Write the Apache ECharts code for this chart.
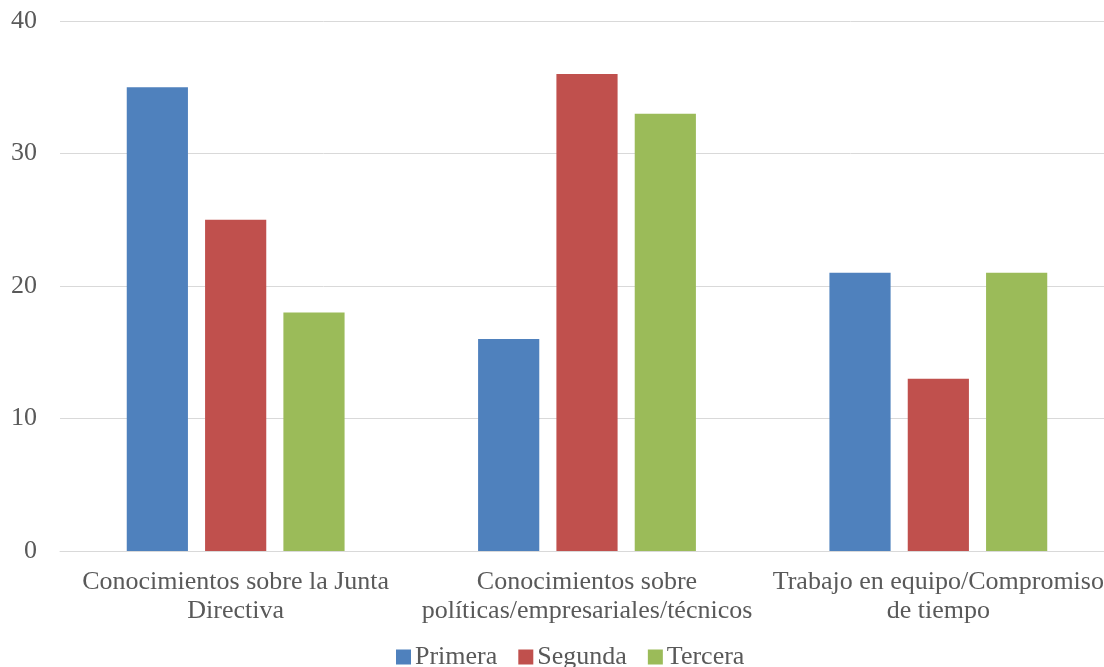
<!DOCTYPE html>
<html>
<head>
<meta charset="utf-8">
<script src="https://cdn.jsdelivr.net/npm/echarts@6/dist/echarts.min.js"></script>
<style>html,body{margin:0;padding:0;background:#fff;overflow:hidden;}#c{width:1114px;height:667px;}</style>
</head>
<body>
<div id="c"></div>
<script>
const categories = [
  "Conocimientos sobre la Junta\nDirectiva",
  "Conocimientos sobre\npolíticas/empresariales/técnicos",
  "Trabajo en equipo/Compromiso\nde tiempo"
];
const primera = [35, 16, 21];
const segunda = [25, 36, 13];
const tercera = [18, 33, 21];
const yTicks = [0, 10, 20, 30, 40];

const font = "Liberation Serif";
const chart = echarts.init(document.getElementById('c'));
chart.setOption({
  animation: false,
  textStyle: { fontFamily: font },
  color: ['#4F81BD', '#C0504D', '#9BBB59'],
  grid: { left: 60, right: 0, top: 21, bottom: 116, containLabel: false },
  legend: {
    top: 639, left: 391,
    itemWidth: 15, itemHeight: 15, itemGap: 21,
    icon: 'rect',
    textStyle: { fontFamily: font, fontSize: 26, color: '#595959', padding: [0, 0, 0, -1] },
    data: ['Primera', 'Segunda', 'Tercera']
  },
  xAxis: {
    type: 'category', data: categories,
    axisLine: { show: true, lineStyle: { color: '#D9D9D9', width: 1 } },
    axisTick: { show: false },
    axisLabel: { fontFamily: font, fontSize: 26, color: '#595959', margin: 17, lineHeight: 29, interval: 0 }
  },
  yAxis: {
    type: 'value', min: yTicks[0], max: yTicks[yTicks.length - 1], interval: 10,
    axisLine: { show: false }, axisTick: { show: false },
    splitLine: { lineStyle: { color: '#D9D9D9', width: 1 } },
    axisLabel: { fontFamily: font, fontSize: 26, color: '#595959', margin: 23 }
  },
  series: [
    { name: 'Primera', type: 'bar', data: primera, barGap: '28%', barCategoryGap: '38%' },
    { name: 'Segunda', type: 'bar', data: segunda, barGap: '28%', barCategoryGap: '38%' },
    { name: 'Tercera', type: 'bar', data: tercera, barGap: '28%', barCategoryGap: '38%' }
  ]
});
</script>
</body>
</html>
